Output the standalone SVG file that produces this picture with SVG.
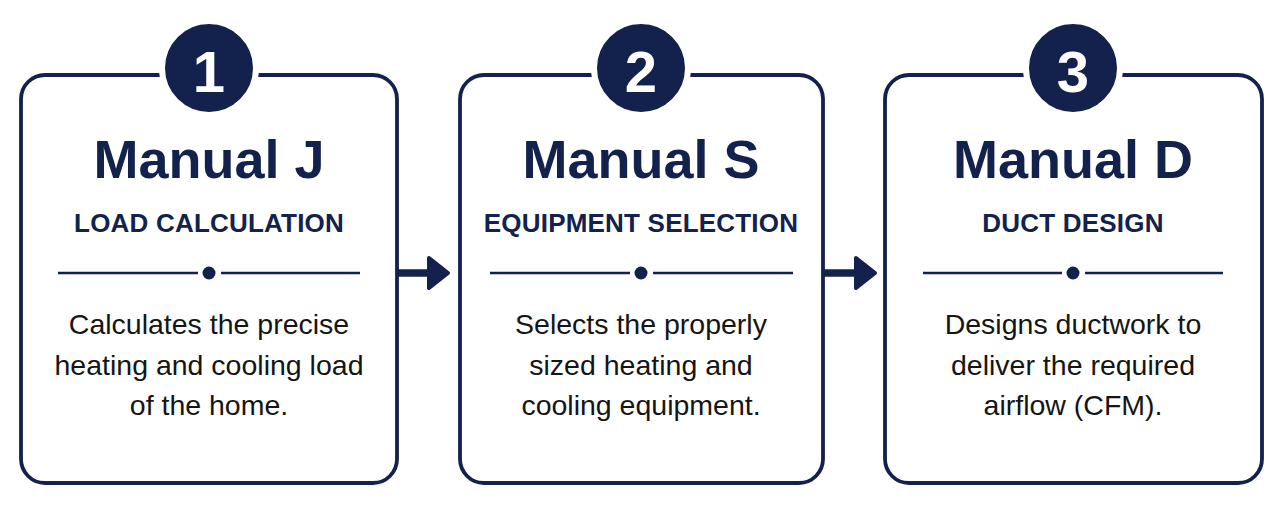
<svg xmlns="http://www.w3.org/2000/svg" width="1280" height="512" viewBox="0 0 1280 512">
<style>
.box{fill:#ffffff;stroke:#13214d;stroke-width:3.8}
.badge{fill:#13214d;stroke:#ffffff;stroke-width:6}
.num{font-family:"Liberation Sans",Arial,sans-serif;font-weight:bold;font-size:58px;fill:#ffffff;text-anchor:middle}
.title{font-family:"Liberation Sans",Arial,sans-serif;font-weight:bold;font-size:54px;fill:#13214d;text-anchor:middle}
.sub{font-family:"Liberation Sans",Arial,sans-serif;font-weight:bold;font-size:26px;fill:#13214d;text-anchor:middle;letter-spacing:0.2px}
.body{font-family:"Liberation Sans",Arial,sans-serif;font-size:28.5px;fill:#151515;text-anchor:middle}
.div{stroke:#13214d;stroke-width:2.5}
.dot{fill:#13214d}
.shaft{stroke:#13214d;stroke-width:7.5}
.head{fill:#13214d;stroke:#13214d;stroke-width:4;stroke-linejoin:round}
</style>
<rect width="1280" height="512" fill="#ffffff"/>
<g id="connectors">
<line class="shaft" x1="397" y1="273" x2="432" y2="273"/>
<path class="head" d="M429,258 L448,273 L429,288 Z"/>
<line class="shaft" x1="823" y1="273" x2="858" y2="273"/>
<path class="head" d="M856,258 L875,273 L856,288 Z"/>
</g>
<g id="step1">
<rect class="box" x="21" y="75" width="376" height="408" rx="24"/>
<circle class="badge" cx="209" cy="68" r="47"/>
<text class="num" x="209" y="92">1</text>
<text class="title" x="209" y="178">Manual J</text>
<text class="sub" x="209" y="232">LOAD CALCULATION</text>
<line class="div" x1="58" y1="273" x2="198" y2="273"/>
<line class="div" x1="221" y1="273" x2="360" y2="273"/>
<circle class="dot" cx="209" cy="273" r="6.5"/>
<text class="body" x="209" y="334">Calculates the precise</text>
<text class="body" x="209" y="375">heating and cooling load</text>
<text class="body" x="209" y="415">of the home.</text>
</g>
<g id="step2">
<rect class="box" x="460" y="75" width="363" height="408" rx="24"/>
<circle class="badge" cx="641" cy="68" r="47"/>
<text class="num" x="641" y="92">2</text>
<text class="title" x="641" y="178">Manual S</text>
<text class="sub" x="641" y="232">EQUIPMENT SELECTION</text>
<line class="div" x1="490" y1="273" x2="630" y2="273"/>
<line class="div" x1="653" y1="273" x2="793" y2="273"/>
<circle class="dot" cx="641" cy="273" r="6.5"/>
<text class="body" x="641" y="334">Selects the properly</text>
<text class="body" x="641" y="375">sized heating and</text>
<text class="body" x="641" y="415">cooling equipment.</text>
</g>
<g id="step3">
<rect class="box" x="885" y="75" width="377" height="408" rx="24"/>
<circle class="badge" cx="1073" cy="68" r="47"/>
<text class="num" x="1073" y="92">3</text>
<text class="title" x="1073" y="178">Manual D</text>
<text class="sub" x="1073" y="232">DUCT DESIGN</text>
<line class="div" x1="923" y1="273" x2="1062" y2="273"/>
<line class="div" x1="1085" y1="273" x2="1223" y2="273"/>
<circle class="dot" cx="1073" cy="273" r="6.5"/>
<text class="body" x="1073" y="334">Designs ductwork to</text>
<text class="body" x="1073" y="375">deliver the required</text>
<text class="body" x="1073" y="415">airflow (CFM).</text>
</g>
</svg>
